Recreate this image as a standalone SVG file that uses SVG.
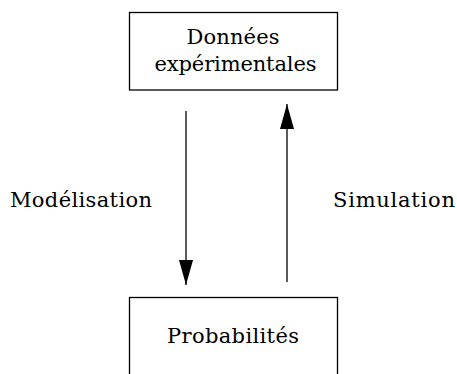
<svg xmlns="http://www.w3.org/2000/svg" width="457" height="374" viewBox="0 0 457 374">
<style>
.box{fill:#fff;stroke:#000;stroke-width:1.3}
.t{font-family:"DejaVu Serif","Liberation Serif",serif;font-size:21px;fill:#000;text-anchor:middle}
.c{stroke:#000;stroke-width:1.3;fill:none}
</style>
<defs>
<marker id="ah" viewBox="0 0 25 14" refX="25" refY="7" markerWidth="25" markerHeight="14" markerUnits="userSpaceOnUse" orient="auto">
<path d="M0,0 L25,7 L0,14 Z" fill="#000"/>
</marker>
</defs>
<rect width="457" height="374" fill="#fff"/>
<g id="donnees">
<rect class="box" x="129.5" y="12.5" width="208" height="77.5"/>
<text class="t" x="233" y="44" textLength="93">Données</text>
<text class="t" x="235.5" y="71" textLength="162">expérimentales</text>
</g>
<g id="probabilites">
<rect class="box" x="129.5" y="297.5" width="208" height="90"/>
<text class="t" x="233" y="343" textLength="132">Probabilités</text>
</g>
<g id="connectors">
<line class="c" x1="186" y1="111" x2="186" y2="285" marker-end="url(#ah)"/>
<line class="c" x1="287" y1="282" x2="287" y2="104" marker-end="url(#ah)"/>
</g>
<g id="labels">
<text class="t" x="81" y="207" textLength="142">Modélisation</text>
<text class="t" x="394" y="207" textLength="122">Simulation</text>
</g>
</svg>
